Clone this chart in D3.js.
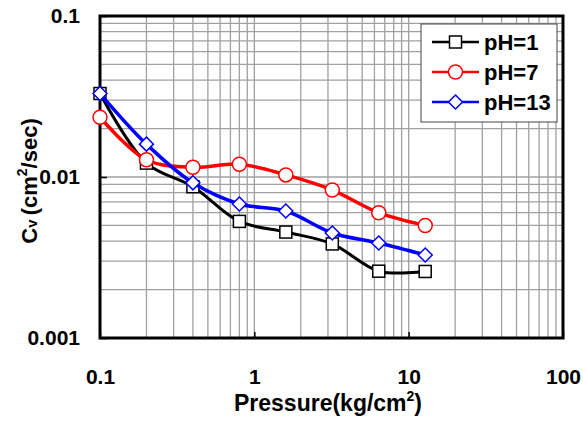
<!DOCTYPE html>
<html>
<head>
<meta charset="utf-8">
<script src="https://cdn.jsdelivr.net/npm/d3@7"></script>
<style>
  html, body { margin: 0; padding: 0; background: #fff; }
  svg { display: block; }
  text { font-family: "Liberation Sans", Arial, Helvetica, sans-serif; font-weight: bold; fill: #000; }
</style>
</head>
<body>
<svg id="chart" width="583" height="421"></svg>
<script>
// Consolidation coefficient vs. applied pressure, three pore-fluid pH levels
const pressure = [0.1, 0.2, 0.4, 0.8, 1.6, 3.2, 6.4, 12.8];
const cvPH1  = [0.0330, 0.0122, 0.0087, 0.0053, 0.00455, 0.00384, 0.00260, 0.00259];
const cvPH7  = [0.0235, 0.0128, 0.0115, 0.0120, 0.0103, 0.0083, 0.0060, 0.0050];
const cvPH13 = [0.0330, 0.0160, 0.0092, 0.0068, 0.00615, 0.00449, 0.00389, 0.00328];
const seriesNames = ["pH=1", "pH=7", "pH=13"];
const xTickValues = [0.1, 1, 10, 100];
const xTickLabels = ["0.1", "1", "10", "100"];
const yTickValues = [0.001, 0.01, 0.1];
const yTickLabels = ["0.001", "0.01", "0.1"];

const svg = d3.select("#chart");
const plotL = 100, plotR = 563, plotT = 16, plotB = 338;

const x = d3.scaleLog().domain([0.1, 100]).range([plotL, plotR]);
const y = d3.scaleLog().domain([0.001, 0.1]).range([plotB, plotT]);

// minor + major grid lines at 1..9 of every decade
const gridX = [], gridY = [];
for (let d = -1; d < 2; d++) for (let k = 2; k <= 9; k++) gridX.push(k * Math.pow(10, d));
for (let d = -3; d < -1; d++) for (let k = 2; k <= 9; k++) gridY.push(k * Math.pow(10, d));
gridX.push(1, 10); gridY.push(0.01);

const grid = svg.append("g").attr("stroke", "#a0a0a0").attr("stroke-width", 1.3);
grid.selectAll("line.gx").data(gridX).join("line")
  .attr("x1", d => x(d)).attr("x2", d => x(d))
  .attr("y1", plotT).attr("y2", plotB);
grid.selectAll("line.gy").data(gridY).join("line")
  .attr("y1", d => y(d)).attr("y2", d => y(d))
  .attr("x1", plotL).attr("x2", plotR);

const tickFont = "21px";

// axes with inward major ticks and bold labels
const xAxis = d3.axisBottom(x).tickValues(xTickValues)
  .tickFormat((d, i) => xTickLabels[i]).tickSizeInner(-6).tickSizeOuter(0).tickPadding(31);
const gx = svg.append("g").attr("transform", `translate(0,${plotB})`).call(xAxis);
gx.select(".domain").remove();
gx.selectAll(".tick line").attr("stroke", "#000").attr("stroke-width", 1.5);
gx.selectAll(".tick text").style("font-size", tickFont).style("font-family", "Liberation Sans, Arial, sans-serif").style("font-weight", "bold");

const yAxis = d3.axisLeft(y).tickValues(yTickValues)
  .tickFormat((d, i) => yTickLabels[i]).tickSizeInner(-7).tickSizeOuter(0).tickPadding(20);
const gy = svg.append("g").attr("transform", `translate(${plotL},0)`).call(yAxis);
gy.select(".domain").remove();
gy.selectAll(".tick line").attr("stroke", "#000").attr("stroke-width", 1.5);
gy.selectAll(".tick text").style("font-size", tickFont).style("font-family", "Liberation Sans, Arial, sans-serif").style("font-weight", "bold");

// plot frame
svg.append("rect").attr("x", plotL).attr("y", plotT)
  .attr("width", plotR - plotL).attr("height", plotB - plotT)
  .attr("fill", "none").attr("stroke", "#000").attr("stroke-width", 3);

// series
const series = [
  { name: seriesNames[0], values: cvPH1,  color: "#000000", shape: "square",  width: 3 },
  { name: seriesNames[1], values: cvPH7,  color: "#ff0000", shape: "circle",  width: 3.5 },
  { name: seriesNames[2], values: cvPH13, color: "#0000ff", shape: "diamond", width: 3.5 }
];

const line = d3.line()
  .x(d => x(d[0])).y(d => y(d[1]))
  .curve(d3.curveCatmullRom.alpha(0.5));

function drawMarker(g, shape, color, cx, cy) {
  if (shape === "square") {
    g.append("rect").attr("x", cx - 6).attr("y", cy - 6).attr("width", 12).attr("height", 12)
      .attr("fill", "#fff").attr("stroke", color).attr("stroke-width", 1.5);
  } else if (shape === "circle") {
    g.append("circle").attr("cx", cx).attr("cy", cy).attr("r", 7)
      .attr("fill", "#fff").attr("stroke", color).attr("stroke-width", 1.5);
  } else {
    const r = 7;
    g.append("path").attr("d", `M${cx},${cy - r}L${cx + r},${cy}L${cx},${cy + r}L${cx - r},${cy}Z`)
      .attr("fill", "#fff").attr("stroke", color).attr("stroke-width", 1.5);
  }
}

series.forEach(s => {
  const pts = pressure.map((p, i) => [p, s.values[i]]);
  const g = svg.append("g");
  g.append("path").datum(pts).attr("d", line)
    .attr("fill", "none").attr("stroke", s.color).attr("stroke-width", s.width)
    .attr("stroke-linejoin", "round");
  pts.forEach(p => drawMarker(g, s.shape, s.color, x(p[0]), y(p[1])));
});

// legend
const lg = svg.append("g");
lg.append("rect").attr("x", 421).attr("y", 24).attr("width", 136).attr("height", 98)
  .attr("fill", "#fff").attr("stroke", "#444").attr("stroke-width", 1);
series.forEach((s, i) => {
  const ly = 42 + i * 30;
  lg.append("line").attr("x1", 432).attr("x2", 479).attr("y1", ly).attr("y2", ly)
    .attr("stroke", s.color).attr("stroke-width", 2.5);
  drawMarker(lg, s.shape, s.color, 455.5, ly);
  lg.append("text").attr("x", 484).attr("y", ly).attr("dy", "0.36em")
    .style("font-size", "22px").text(s.name);
});

// axis titles
const xt = svg.append("text").attr("x", 328).attr("y", 411).attr("text-anchor", "middle")
  .style("font-size", "23px");
xt.append("tspan").text("Pressure(kg/cm");
xt.append("tspan").attr("dy", -10).style("font-size", "14px").text("2");
xt.append("tspan").attr("dy", 10).text(")");

const yt = svg.append("text").attr("transform", `translate(37,181) rotate(-90)`)
  .attr("text-anchor", "middle").style("font-size", "22px");
yt.append("tspan").text("C");
yt.append("tspan").style("font-size", "15px").text("v ");
yt.append("tspan").text("(cm");
yt.append("tspan").attr("dy", -10).style("font-size", "14px").text("2");
yt.append("tspan").attr("dy", 10).text("/sec)");
</script>
</body>
</html>
